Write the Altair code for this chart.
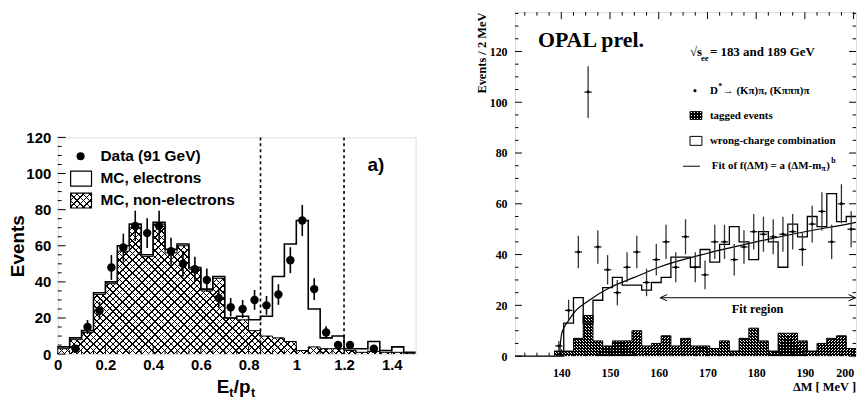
import altair as alt
import pandas as pd

SANS = "Liberation Sans"
SERIF = "Liberation Serif"

# ---------------- Left panel: E_t / p_t ----------------
ep_edges = [0.0, 0.05, 0.1, 0.15, 0.2, 0.25, 0.3, 0.35, 0.4, 0.45, 0.5, 0.55, 0.6, 0.65, 0.7,
            0.75, 0.8, 0.85, 0.9, 0.95, 1.0, 1.05, 1.1, 1.15, 1.2, 1.25, 1.3, 1.35, 1.4, 1.45, 1.5]
mc_total = [4, 9, 13, 34, 40, 60, 72, 55, 73, 58, 61, 48, 36, 43, 20,
            21, 19, 21, 43, 61, 74, 25, 9, 10, 3, 3, 7, 2, 4, 1]
mc_nonel = [3, 8, 12, 33, 39, 57, 70, 54, 72, 56, 60, 47, 35, 42, 20,
            19, 13, 10, 9, 7, 2, 4, 3, 3, 2, 1, 1.5, 1, 1, 0.5]
data_x = [0.075, 0.125, 0.175, 0.225, 0.275, 0.325, 0.375, 0.425, 0.475, 0.525, 0.575, 0.625, 0.675,
          0.725, 0.775, 0.825, 0.875, 0.925, 0.975, 1.025, 1.075, 1.125, 1.175, 1.225, 1.325]
data_n = [3, 15, 24, 48, 59, 71, 67, 71, 57, 50, 47, 41, 31, 26, 25, 30, 27, 33, 52, 74, 36, 12, 5, 5, 3]
data_err = [1.7, 3.9, 4.9, 6.9, 7.7, 8.4, 8.2, 8.4, 7.5, 7.1, 6.9, 6.4, 5.6, 5.1, 5.0, 5.5, 5.2, 5.7,
            7.2, 8.6, 6.0, 3.5, 2.2, 2.2, 1.7]
cut_lines = [0.85, 1.2]
l_xlabels = [0, 0.2, 0.4, 0.6, 0.8, 1, 1.2, 1.4]
l_ylabels = [0, 20, 40, 60, 80, 100, 120]
l_xminor = [0.05, 0.1, 0.15, 0.25, 0.3, 0.35, 0.45, 0.5, 0.55, 0.65, 0.7, 0.75, 0.85, 0.9, 0.95,
            1.05, 1.1, 1.15, 1.25, 1.3, 1.35, 1.45]
l_yminor = [5, 10, 15, 25, 30, 35, 45, 50, 55, 65, 70, 75, 85, 90, 95, 105, 110, 115]

# ---------------- Right panel: Delta M ----------------
dm_edges = [130.5 + 2 * i for i in range(36)]
wrong_charge = [0, 0, 0, 0, 0, 13, 23, 13, 22, 27, 31, 28, 28, 26, 29, 31, 39, 39, 35, 42,
                37, 44, 51, 45, 38, 49, 45, 35, 52, 47, 55, 51, 64, 53, 55]
tag_edges = [138.5 + 2 * i for i in range(32)]
tagged = [2, 2, 7, 16, 6, 4, 6, 6, 10, 4, 5, 8, 4, 7, 4, 4, 3, 6, 2, 7, 11, 6, 2, 9, 9, 6, 2, 5, 7, 8, 3]
dstar_x = [139.5 + 2 * i for i in range(31)]
dstar_n = [4, 18, 41, 104, 43, 34, 25, 35, 41, 29, 38, 45, 35, 47, 35, 32, 45, 45, 38, 43,
           49, 48, 47, 48, 49, 42, 52, 57, 45, 60, 50]
dstar_err = [2.0, 4.2, 6.4, 10.2, 6.6, 5.8, 5.0, 5.9, 6.4, 5.4, 6.2, 6.7, 5.9, 6.9, 5.9, 5.7, 6.7, 6.7,
             6.2, 6.6, 7.0, 6.9, 6.9, 6.9, 7.0, 6.5, 7.2, 7.5, 6.7, 7.7, 7.1]
fit_x = [139.6, 140.0, 140.5, 141.5, 143, 145, 150, 155, 160, 170, 180, 190, 200, 200.5]
fit_y = [0, 8, 11, 14, 18, 21, 27, 31, 35, 40.5, 45, 49, 52.5, 52.7]
fit_region = [160.3, 200.4]
fit_region_y = 23
r_xlabels = [140, 150, 160, 170, 180, 190, 200]
r_ylabels = [0, 20, 40, 60, 80, 100, 120]
r_xminor = [132.5, 135, 137.5, 142.5, 145, 147.5, 152.5, 155, 157.5, 162.5, 165, 167.5, 172.5, 175,
            177.5, 182.5, 185, 187.5, 192.5, 195, 197.5]
r_yminor = [5, 10, 15, 25, 30, 35, 45, 50, 55, 65, 70, 75, 85, 90, 95, 105, 110, 115, 125, 130, 135]


def step_df(edges, vals):
    return pd.DataFrame({"x": edges, "y": list(vals) + [vals[-1]]})


def hatch(w, h, spacing, lw, direction, bg):
    r = h / w
    a = (1 + r) / (1 + r * r)
    if direction == 1:
        x1, y1, x2, y2 = 0, 0, a, a * r
    else:
        x1, y1, x2, y2 = 0, 1, a, 1 - a * r
    period = spacing / (w + h)
    frac = lw / spacing
    stops = []
    o = 0.0
    while o < 1.0:
        o2 = min(o + frac * period, 1.0)
        o3 = min(o + period, 1.0)
        stops += [alt.GradientStop(offset=round(o, 5), color="black"),
                  alt.GradientStop(offset=round(o2, 5), color="black"),
                  alt.GradientStop(offset=round(o2, 5), color=bg),
                  alt.GradientStop(offset=round(o3, 5), color=bg)]
        o += period
    return alt.LinearGradient(gradient="linear", stops=stops, x1=x1, y1=y1, x2=x2, y2=y2)


one = pd.DataFrame({"k": [0]})
CLEAR = "rgba(255,255,255,0)"

# ================= LEFT =================
LW, LH = 360, 218
LX = alt.Scale(domain=[0, 1.5], nice=False, zero=False)
LY = alt.Scale(domain=[0, 120], nice=False)

l_xaxis = alt.Axis(orient="bottom", values=l_xlabels, format="~g", labelFont=SANS, labelFontWeight="bold",
                   labelFontSize=15, labelPadding=3, ticks=False, tickSize=0, domain=False, grid=False,
                   title=None, labelFlush=False, labelOverlap=False, labelColor="black")
l_yaxis = alt.Axis(orient="left", values=l_ylabels, format="d", labelFont=SANS, labelFontWeight="bold",
                   labelFontSize=15, labelPadding=7, ticks=False, tickSize=0, domain=False, grid=False,
                   title="Events", titleFont=SANS, titleFontWeight="bold", titleFontSize=19, titlePadding=-2,
                   labelFlush=False, labelOverlap=False, labelColor="black", titleColor="black")

nonel_df = step_df(ep_edges, mc_nonel)
total_df = step_df(ep_edges, mc_total)
hw, hh = LW, max(mc_nonel) / 120 * LH

l_hatch1 = alt.Chart(nonel_df).mark_area(interpolate="step-after", fill=hatch(hw, hh, 6.5, 1.5, 1, "white")).encode(
    x=alt.X("x:Q", scale=LX, axis=l_xaxis), y=alt.Y("y:Q", scale=LY, axis=l_yaxis))
l_hatch2 = alt.Chart(nonel_df).mark_area(interpolate="step-after", fill=hatch(hw, hh, 6.5, 1.5, 2, CLEAR)).encode(
    x=alt.X("x:Q", scale=LX, axis=None), y=alt.Y("y:Q", scale=LY, axis=None))
l_nonel_line = alt.Chart(nonel_df).mark_line(interpolate="step-after", color="black", strokeWidth=1).encode(
    x=alt.X("x:Q", scale=LX, axis=None), y=alt.Y("y:Q", scale=LY, axis=None))
l_total_line = alt.Chart(total_df).mark_line(interpolate="step-after", color="black", strokeWidth=1.6).encode(
    x=alt.X("x:Q", scale=LX, axis=None), y=alt.Y("y:Q", scale=LY, axis=None))
l_cuts = alt.Chart(pd.DataFrame({"v": cut_lines})).mark_rule(color="black", strokeWidth=1.6, strokeDash=[3, 3]).encode(
    x=alt.X("v:Q", scale=LX, axis=None), y=alt.value(0), y2=alt.value(LH))


def l_rule_y(vals, length):
    return alt.Chart(pd.DataFrame({"v": vals})).mark_rule(color="black", strokeWidth=1).encode(
        y=alt.Y("v:Q", scale=LY, axis=None), x=alt.value(0), x2=alt.value(length))


def l_rule_x(vals, length):
    return alt.Chart(pd.DataFrame({"v": vals})).mark_rule(color="black", strokeWidth=1).encode(
        x=alt.X("v:Q", scale=LX, axis=None), y=alt.value(LH), y2=alt.value(LH - length))


ldata = pd.DataFrame({"x": data_x, "n": data_n, "e": data_err})
l_err = alt.Chart(ldata).transform_calculate(lo="datum.n - datum.e", hi="datum.n + datum.e").mark_rule(
    color="black", strokeWidth=1.6).encode(
    x=alt.X("x:Q", scale=LX, axis=None), y=alt.Y("lo:Q", scale=LY, axis=None), y2="hi:Q")
l_pts = alt.Chart(ldata).mark_circle(size=72, color="black", opacity=1).encode(
    x=alt.X("x:Q", scale=LX, axis=None), y=alt.Y("n:Q", scale=LY, axis=None))


def ltext(txt, x, y, size=15.5, align="left", baseline="middle"):
    return alt.Chart(one).mark_text(text=txt, font=SANS, fontWeight="bold", fontSize=size, align=align,
                                    baseline=baseline, color="black").encode(x=alt.value(x), y=alt.value(y))


l_leg_dot = alt.Chart(one).mark_circle(size=65, color="black", opacity=1).encode(x=alt.value(23), y=alt.value(19))
l_leg_el = alt.Chart(one).mark_rect(fill="white", stroke="black", strokeWidth=1.2).encode(
    x=alt.value(13), x2=alt.value(34), y=alt.value(34), y2=alt.value(49))
l_leg_ne1 = alt.Chart(one).mark_rect(fill=hatch(21, 15, 6.5, 1.5, 1, "white")).encode(
    x=alt.value(13), x2=alt.value(34), y=alt.value(56), y2=alt.value(71))
l_leg_ne2 = alt.Chart(one).mark_rect(fill=hatch(21, 15, 6.5, 1.5, 2, CLEAR), stroke="black", strokeWidth=1.2).encode(
    x=alt.value(13), x2=alt.value(34), y=alt.value(56), y2=alt.value(71))

left = alt.layer(
    l_hatch1, l_hatch2, l_nonel_line, l_total_line, l_cuts,
    l_rule_y(l_ylabels, 8), l_rule_y(l_yminor, 4), l_rule_x(l_xlabels, 8), l_rule_x(l_xminor, 4),
    l_err, l_pts,
    l_leg_dot, l_leg_el, l_leg_ne1, l_leg_ne2,
    ltext("Data (91 GeV)", 43, 19), ltext("MC, electrons", 43, 41), ltext("MC, non-electrons", 43, 63),
    ltext("a)", 320, 28, size=19, align="center"),
    ltext("E", 160, 257.5, size=19, baseline="alphabetic"),
    ltext("t", 172.5, 261, size=12.5, baseline="alphabetic"),
    ltext("/p", 177, 257.5, size=19, baseline="alphabetic"),
    ltext("t", 194.5, 261, size=12.5, baseline="alphabetic"),
).resolve_axis(x="independent", y="independent").properties(width=LW, height=LH)

spacer = alt.Chart(one).mark_point(opacity=0, size=1).encode(x=alt.value(5), y=alt.value(60)).properties(
    width=10, height=118, view=alt.ViewBackground(strokeOpacity=0))

left_col = alt.vconcat(spacer, left, spacing=0)

# ================= RIGHT =================
RW, RH = 343, 346
RX = alt.Scale(domain=[130.5, 200.5], nice=False, zero=False)
RY = alt.Scale(domain=[0, 135.5], nice=False)

r_xaxis = alt.Axis(orient="bottom", values=r_xlabels, format="d", labelFont=SERIF, labelFontWeight="bold",
                   labelFontSize=12, labelPadding=12, ticks=False, tickSize=0, domain=False, grid=False,
                   title=None, labelFlush=False, labelOverlap=False, labelColor="black",
                   labelAlign={"condition": {"test": "datum.value == 200", "value": "right"}, "value": "center"})
r_yaxis = alt.Axis(orient="left", values=r_ylabels, format="d", labelFont=SERIF, labelFontWeight="bold",
                   labelFontSize=12, labelPadding=8, ticks=False, tickSize=0, domain=False, grid=False,
                   title="Events / 2 MeV", titleFont=SERIF, titleFontWeight="bold", titleFontSize=12.5,
                   titleAnchor="end", titlePadding=1, labelFlush=False, labelOverlap=False,
                   labelColor="black", titleColor="black")

tag_df = step_df(tag_edges, tagged)
wc_df = step_df(dm_edges, wrong_charge)
tw = (tag_edges[-1] - tag_edges[0]) / 70 * RW
th = max(tagged) / 135.5 * RH

r_tag1 = alt.Chart(tag_df).mark_area(interpolate="step-after", fill=hatch(tw, th, 3.0, 1.6, 1, "white")).encode(
    x=alt.X("x:Q", scale=RX, axis=r_xaxis), y=alt.Y("y:Q", scale=RY, axis=r_yaxis))
r_tag2 = alt.Chart(tag_df).mark_area(interpolate="step-after", fill=hatch(tw, th, 3.0, 1.6, 2, CLEAR)).encode(
    x=alt.X("x:Q", scale=RX, axis=None), y=alt.Y("y:Q", scale=RY, axis=None))
r_tag_line = alt.Chart(tag_df).mark_line(interpolate="step-after", color="black", strokeWidth=1).encode(
    x=alt.X("x:Q", scale=RX, axis=None), y=alt.Y("y:Q", scale=RY, axis=None))
r_wc_line = alt.Chart(wc_df).mark_line(interpolate="step-after", color="black", strokeWidth=1.3).encode(
    x=alt.X("x:Q", scale=RX, axis=None), y=alt.Y("y:Q", scale=RY, axis=None))
r_fit = alt.Chart(pd.DataFrame({"x": fit_x, "y": fit_y})).mark_line(
    interpolate="monotone", color="black", strokeWidth=1.2).encode(
    x=alt.X("x:Q", scale=RX, axis=None), y=alt.Y("y:Q", scale=RY, axis=None))

rdata = pd.DataFrame({"x": dstar_x, "n": dstar_n, "e": dstar_err})
r_verr = alt.Chart(rdata).transform_calculate(lo="datum.n - datum.e", hi="datum.n + datum.e").mark_rule(
    color="#333333", strokeWidth=1.3).encode(
    x=alt.X("x:Q", scale=RX, axis=None), y=alt.Y("lo:Q", scale=RY, axis=None), y2="hi:Q")
r_herr = alt.Chart(rdata).transform_calculate(xl="datum.x - 0.75", xh="datum.x + 0.75").mark_rule(
    color="black", strokeWidth=1.2).encode(
    x=alt.X("xl:Q", scale=RX, axis=None), x2="xh:Q", y=alt.Y("n:Q", scale=RY, axis=None))
r_pts = alt.Chart(rdata).mark_circle(size=9, color="black", opacity=1).encode(
    x=alt.X("x:Q", scale=RX, axis=None), y=alt.Y("n:Q", scale=RY, axis=None))

fr_df = pd.DataFrame({"x1": [fit_region[0]], "x2": [fit_region[1]], "y": [fit_region_y]})
r_arrow = alt.Chart(fr_df).mark_rule(color="black", strokeWidth=1).encode(
    x=alt.X("x1:Q", scale=RX, axis=None), x2="x2:Q", y=alt.Y("y:Q", scale=RY, axis=None))
r_head_l = alt.Chart(fr_df).mark_point(shape="M 2 -0.9 L 0 0 L 2 0.9", size=49, filled=False, color="black",
                                       strokeWidth=1, opacity=1).encode(
    x=alt.X("x1:Q", scale=RX, axis=None), y=alt.Y("y:Q", scale=RY, axis=None))
r_head_r = alt.Chart(fr_df).mark_point(shape="M -2 -0.9 L 0 0 L -2 0.9", size=49, filled=False, color="black",
                                       strokeWidth=1, opacity=1).encode(
    x=alt.X("x2:Q", scale=RX, axis=None), y=alt.Y("y:Q", scale=RY, axis=None))


def r_rule_y(vals, x0, x1):
    return alt.Chart(pd.DataFrame({"v": vals})).mark_rule(color="black", strokeWidth=1).encode(
        y=alt.Y("v:Q", scale=RY, axis=None), x=alt.value(x0), x2=alt.value(x1))


def r_rule_x(vals, y0, y1):
    return alt.Chart(pd.DataFrame({"v": vals})).mark_rule(color="black", strokeWidth=1).encode(
        x=alt.X("v:Q", scale=RX, axis=None), y=alt.value(y0), y2=alt.value(y1))


def rtext(txt, x, y, size=11, align="left", baseline="middle"):
    return alt.Chart(one).mark_text(text=txt, font=SERIF, fontWeight="bold", fontSize=size, align=align,
                                    baseline=baseline, color="black").encode(x=alt.value(x), y=alt.value(y))


r_leg_dot = alt.Chart(one).mark_circle(size=10, color="black", opacity=1).encode(x=alt.value(181), y=alt.value(79))
r_leg_tag1 = alt.Chart(one).mark_rect(fill=hatch(12, 8, 3.0, 1.6, 1, "white")).encode(
    x=alt.value(176), x2=alt.value(188), y=alt.value(100), y2=alt.value(108))
r_leg_tag2 = alt.Chart(one).mark_rect(fill=hatch(12, 8, 3.0, 1.6, 2, CLEAR), stroke="black", strokeWidth=0.8).encode(
    x=alt.value(176), x2=alt.value(188), y=alt.value(100), y2=alt.value(108))
r_leg_wc = alt.Chart(one).mark_rect(fill="white", stroke="black", strokeWidth=1).encode(
    x=alt.value(176), x2=alt.value(188), y=alt.value(125), y2=alt.value(134))
r_leg_fit = alt.Chart(one).mark_rule(color="black", strokeWidth=1).encode(
    x=alt.value(169), x2=alt.value(186), y=alt.value(155))

fr_text = alt.Chart(one).mark_text(text="Fit region", font=SERIF, fontWeight="bold", fontSize=12.5,
                                   align="center", baseline="middle", color="black").encode(
    x=alt.value((180.3 - 130.5) / 70 * RW), y=alt.value(RH - 18.5 / 135.5 * RH))

right = alt.layer(
    r_tag1, r_tag2, r_tag_line, r_wc_line, r_fit,
    r_verr, r_herr, r_pts,
    r_arrow, r_head_l, r_head_r, fr_text,
    r_rule_y(r_ylabels, 0, 7), r_rule_y(r_yminor, 0, 3.5),
    r_rule_y(r_ylabels, RW - 7, RW), r_rule_y(r_yminor, RW - 3.5, RW),
    r_rule_x(r_xlabels, RH, RH - 7), r_rule_x(r_xminor, RH, RH - 3.5),
    r_rule_x(r_xlabels, 0, 7), r_rule_x(r_xminor, 0, 3.5),
    rtext("ΔM [ MeV ]", RW, 381, size=12.5, align="right", baseline="alphabetic"),
    rtext("OPAL prel.", 23, 35, size=22, baseline="alphabetic"),
    rtext("√s", 176, 40, size=13),
    rtext("ee", 187, 46, size=8.5),
    rtext("= 183 and 189 GeV", 196, 40, size=13),
    r_leg_dot,
    rtext("D", 196, 79),
    rtext("*", 204.5, 75, size=8),
    rtext("→ (Kπ)π,  (Kπππ)π", 209, 79),
    r_leg_tag1, r_leg_tag2,
    rtext("tagged events", 196, 104),
    r_leg_wc,
    rtext("wrong-charge combination", 196, 130),
    r_leg_fit,
    rtext("Fit of f(ΔM) = a (ΔM-m", 198, 155),
    rtext("π", 308, 158, size=8),
    rtext(")", 313, 155),
    rtext("b", 318, 150, size=8),
).resolve_axis(x="independent", y="independent").properties(width=RW, height=RH)

chart = alt.hconcat(left_col, right, spacing=55).properties(
    padding={"left": 0, "top": 2, "right": 0, "bottom": 0}
).configure_view(stroke="black", strokeWidth=1.5).configure(background="white")

chart.save("out.html", embed_options={"renderer": "svg", "actions": False})
